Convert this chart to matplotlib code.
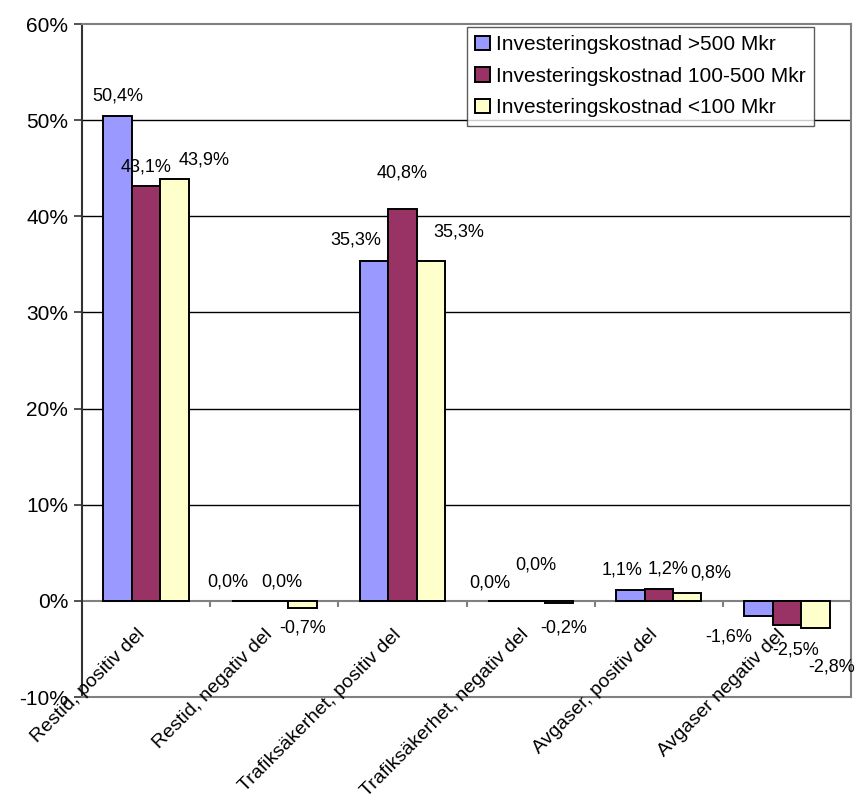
import matplotlib.pyplot as plt
import numpy as np
from matplotlib.ticker import FuncFormatter

plt.rcParams['font.family'] = ['Liberation Sans', 'DejaVu Sans']

categories = ['Restid, positiv del', 'Restid, negativ del',
              'Trafiksäkerhet, positiv del', 'Trafiksäkerhet, negativ del',
              'Avgaser, positiv del', 'Avgaser negativ del']
series_names = ['Investeringskostnad >500 Mkr',
                'Investeringskostnad 100-500 Mkr',
                'Investeringskostnad <100 Mkr']
large = [50.4, 0.0, 35.3, 0.0, 1.1, -1.6]
medium = [43.1, 0.0, 40.8, 0.0, 1.2, -2.5]
small = [43.9, -0.7, 35.3, -0.2, 0.8, -2.8]
colors = ['#9999FF', '#993366', '#FFFFCC']

# hand-placed label offsets (pixels, dx / dy from the bar end)
label_offsets = [
    [(0, 20), (-18, 19), (-18, 21), (-12, 18), (-8, 20), (-30, -21)],
    [(0, 19), (8, 19), (0, 36), (5, 36), (9, 20), (9, -25)],
    [(30, 19), (0, -20), (28, 29), (5, -25), (24, 20), (16, -39)],
]

fig = plt.figure(figsize=(8.55, 8.05), dpi=100)
ax = fig.add_axes([82 / 855, 1 - 697 / 805, 769 / 855, 673 / 805])

x = np.arange(len(categories))
w = 1 / 4.5
px = 0.72  # points per pixel at 100 dpi
for k, vals in enumerate([large, medium, small]):
    xs = x + (k - 1) * w
    ax.bar(xs, vals, width=w, color=colors[k], edgecolor='black',
           linewidth=1.4, label=series_names[k], zorder=3)
    for xi, v, (dx, dy) in zip(xs, vals, label_offsets[k]):
        ax.annotate(f'{v:.1f}%'.replace('.', ','), (xi, v),
                    xytext=(dx * px, dy * px), textcoords='offset points',
                    ha='center', va='center', fontsize=13, zorder=4,
                    annotation_clip=False)

ax.set_xlim(-0.5, len(categories) - 0.5)
ax.set_ylim(-10, 60)
ax.set_yticks(range(-10, 61, 10))
ax.yaxis.set_major_formatter(FuncFormatter(lambda v, p: f'{v:.0f}%'))
ax.tick_params(axis='y', labelsize=15, length=6, width=1.2, color='#333333', pad=4)
ax.set_xticks([])

for y in range(10, 60, 10):
    ax.axhline(y, color='black', linewidth=1.0, zorder=1)
ax.axhline(0, color='#808080', linewidth=1.5, zorder=2)
ax.vlines(np.arange(0.5, len(categories) - 1), -0.6, 0, color='#808080',
          linewidth=1.5, zorder=2)

for s in ['top', 'right', 'bottom']:
    ax.spines[s].set_color('#808080')
    ax.spines[s].set_linewidth(1.5)
ax.spines['left'].set_color('#333333')
ax.spines['left'].set_linewidth(1.5)

# category names hang below the zero line
for xi, name in zip(x, categories):
    ax.annotate(name, (xi, 0), xytext=(-10 * px, -25 * px),
                textcoords='offset points', ha='right', va='top',
                rotation=45, rotation_mode='anchor', fontsize=14)

leg = ax.legend(loc='upper right', fontsize=15, frameon=True,
                fancybox=False, handlelength=0.7, handleheight=0.7,
                handletextpad=0.3, borderpad=0.4, labelspacing=0.6,
                borderaxespad=0)
leg.get_frame().set_edgecolor('#333333')
leg.get_frame().set_linewidth(1.0)
leg.set_bbox_to_anchor((814 / 855, 1 - 27 / 805), transform=fig.transFigure)

fig.savefig('out.png', dpi=100)
